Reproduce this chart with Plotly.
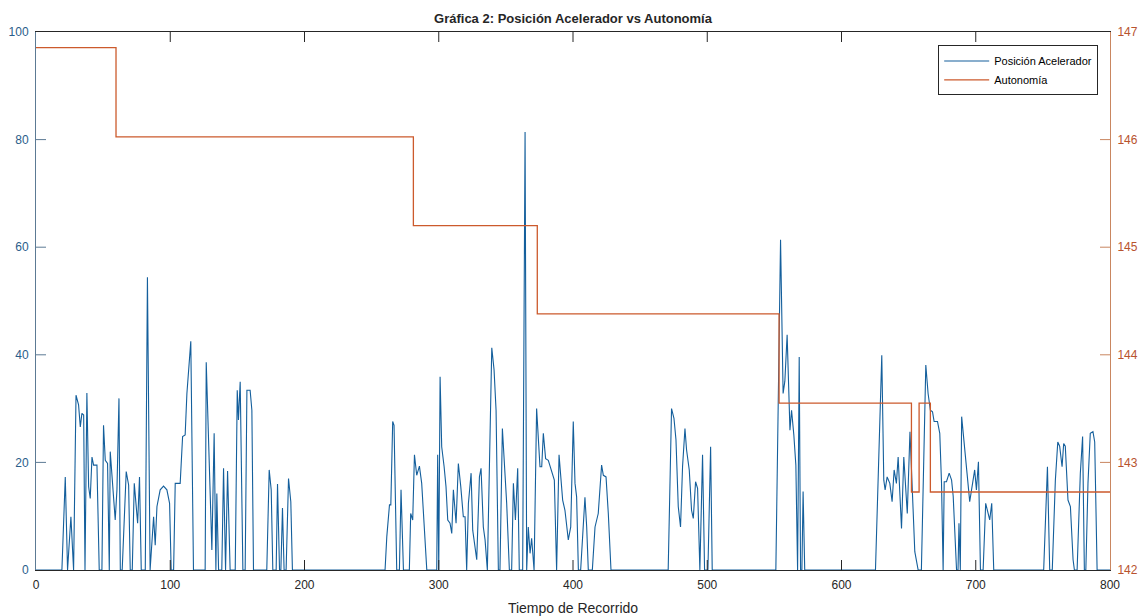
import plotly.graph_objects as go

# Posición Acelerador (left axis)
t_acel = [0, 19.3, 21.8, 23.5, 26.0, 28.0, 29.8, 31.7, 33.0, 34.2, 35.5, 36.5, 37.9, 39.2, 40.4, 41.7, 42.9, 45.4,
          47.1, 49.1, 50.3, 51.6, 53.3, 54.6, 55.3, 56.6, 57.8, 59.0, 60.3, 61.8, 62.8, 64.2, 67.2, 69.0, 70.2,
          71.7, 73.2, 74.7, 75.7, 77.1, 78.4, 81.4, 83.0, 85.0, 87.6, 88.8, 90.1, 92.5, 95.0, 97.5, 99.5, 100.7,
          102.5, 103.7, 107.4, 109.2, 111.1, 112.4, 115.3, 117.3, 126.0, 126.8, 131.0, 132.7, 134.0, 134.7, 136.0,
          138.4, 139.7, 141.2, 142.7, 144.6, 148.4, 149.9, 150.8, 152.1, 154.1, 155.8, 157.1, 159.5, 160.8, 162.0,
          171.9, 173.7, 175.2, 176.4, 178.9, 179.9, 181.4, 182.4, 183.6, 184.8, 186.3, 188.1, 189.8, 191.0,
          260.0, 261.3, 263.3, 264.3, 265.7, 266.7, 268.7, 270.7, 271.9, 273.7, 278.1, 279.1, 280.6, 281.9, 283.6,
          285.6, 287.3, 291.1, 298.5, 299.2, 300.0, 301.0, 302.2, 304.0, 305.4, 306.7, 308.4, 309.7, 310.9, 312.9,
          314.6, 316.4, 318.3, 319.6, 320.8, 322.1, 324.1, 325.3, 327.0, 328.3, 330.3, 331.5, 333.2, 334.5, 336.2,
          339.5, 341.2, 342.7, 344.4, 345.6, 347.4, 349.4, 350.6, 352.6, 354.3, 355.6, 357.1, 358.8, 360.0, 362.5,
          364.3, 365.5, 366.7, 368.0, 369.2, 371.0, 372.9, 375.4, 376.7, 377.9, 379.6, 381.6, 384.1, 386.1, 387.8,
          389.6, 392.3, 394.0, 396.5, 398.3, 400.2, 401.5, 402.7, 404.0, 405.7, 407.2, 408.9, 410.2, 411.4, 414.4,
          416.4, 418.8, 421.3, 422.6, 424.6, 426.3, 428.3, 470.9, 473.4, 475.2, 476.7, 478.4, 480.1, 481.6, 483.4,
          484.6, 486.6, 488.3, 489.6, 491.3, 492.8, 494.5, 496.5, 498.0, 500.5, 502.5, 503.7, 551.1, 554.6, 556.5,
          557.8, 559.5, 561.1, 561.6, 562.8, 564.5, 566.0, 567.3, 568.5, 569.5, 570.5, 571.4, 572.6, 625.3, 630.0,
          631.5, 632.5, 634.0, 636.0, 637.7, 639.2, 640.9, 642.2, 644.7, 646.4, 649.0, 651.0, 654.6, 657.1, 659.5,
          662.8, 664.5, 666.2, 667.8, 669.0, 671.5, 673.2, 674.5, 675.7, 676.5, 678.2, 680.2, 682.0, 683.2, 685.7,
          686.8, 687.5, 688.5, 689.5, 691.8, 693.5, 695.5, 696.8, 699.2, 700.5, 702.0, 703.5, 705.5, 707.4, 709.2,
          710.4, 711.9, 713.4, 750.6, 753.4, 755.1, 757.0, 759.3, 761.1, 762.5, 764.3, 765.5, 766.7, 768.7, 770.5,
          772.5, 773.5, 775.5, 777.9, 779.6, 780.9, 782.0, 783.6, 785.3, 787.3, 788.6, 790.4, 800]
v_acel = [0, 0, 17.3, 0, 9.9, 0, 32.5, 30.7, 26.6, 29.1, 28.8, 0, 32.9, 15.5, 13.3, 21.0, 19.5, 19.5,
          0, 0, 26.9, 20.4, 19.8, 0, 22.0, 18.0, 13.0, 9.3, 14.9, 31.9, 0, 0, 18.3, 15.8, 0,
          0, 16.1, 12.4, 8.7, 17.3, 0, 0, 54.4, 0, 9.9, 4.6, 11.8, 14.9, 15.6, 14.9, 12.4, 0,
          0, 16.1, 16.1, 24.8, 25.1, 32.8, 42.5, 0, 0, 38.6, 3.7, 25.4, 0, 14.2, 0,
          0, 18.9, 0, 18.4, 0, 0, 33.4, 27.9, 35.0, 0, 0, 33.4, 33.4, 29.7, 0,
          0, 18.6, 14.9, 0, 0, 16.0, 0, 0, 11.5, 0, 0, 17.0, 12.7, 0,
          0, 6.2, 12.1, 12.1, 27.6, 26.9, 0, 0, 14.9, 0, 0, 10.5, 9.3, 21.4, 17.6,
          19.3, 16.1, 0, 0, 21.4, 0, 35.9, 22.9, 19.2, 15.5, 9.3, 8.7, 6.8, 14.9, 8.7,
          19.8, 15.5, 9.9, 9.9, 0, 12.4, 18.0, 7.4, 4.3, 1.9, 17.3, 18.9, 8.0, 5.6, 0,
          41.3, 37.2, 29.7, 0, 0, 26.3, 16.7, 12.4, 0, 0, 16.1, 9.3, 18.9, 0, 0,
          81.4, 0, 8.0, 3.1, 5.9, 0, 30.0, 19.2, 19.2, 25.4, 20.7, 20.4, 18.3, 16.7, 0,
          21.4, 13.0, 11.1, 5.6, 8.0, 27.6, 16.1, 13.6, 0, 0, 6.8, 13.5, 8.0, 0, 0,
          8.0, 10.5, 19.5, 17.6, 17.3, 10.5, 0, 0, 30.0, 28.2, 24.2, 11.8, 8.0, 19.2, 26.3,
          22.3, 18.6, 11.1, 9.6, 16.4, 15.2, 0, 21.4, 0, 0, 22.9, 0, 0, 61.4, 32.8,
          35.1, 43.7, 32.2, 26.0, 29.7, 25.1, 19.5, 0, 39.6, 0, 0, 14.6, 0, 0, 39.9,
          16.7, 14.9, 17.3, 16.1, 12.7, 18.6, 16.1, 21.0, 7.7, 21.0, 10.5, 25.7, 3.4, 0, 0,
          38.1, 32.8, 29.7, 29.4, 27.6, 27.6, 25.4, 16.1, 0, 16.4, 16.4, 18.0, 16.7, 13.7, 0,
          0, 8.7, 0, 28.5, 21.7, 18.0, 12.7, 14.9, 18.6, 14.9, 20.1, 0, 0, 12.4, 10.5,
          9.3, 12.4, 0, 0, 19.2, 0, 0, 16.7, 23.8, 23.0, 19.2, 23.5, 23.0, 13.0, 11.8,
          1.9, 0, 0, 18.0, 24.8, 0, 0, 16.1, 25.4, 25.7, 23.8, 0, 0]

# Autonomía (right axis), step changes
t_auto = [0, 59.6, 281.1, 373.4, 553.5, 652.1, 657.8, 666.2, 800]
v_auto = [146.855, 146.025, 145.2, 144.38, 143.55, 142.725, 143.55, 142.725, 142.725]

x_ticks = [0, 100, 200, 300, 400, 500, 600, 700, 800]
yl_ticks = [0, 20, 40, 60, 80, 100]
yr_ticks = [142, 143, 144, 145, 146, 147]

BLUE = "#145F9C"
RED = "#CC5A2C"
LBLUE = "#2A5D8A"
LRED = "#B8532E"
DARK = "#262626"
FONT = "Liberation Sans, Arial, Helvetica, sans-serif"

W, H = 1145, 616
ML, MR, MT, MB = 36, 35, 32, 46
PW, PH = W - ML - MR, H - MT - MB
TL = 10  # tick length in px
fx, fy = TL / PW, TL / PH

fig = go.Figure()
fig.add_trace(go.Scatter(x=t_acel, y=v_acel, mode="lines", name="Posición Acelerador",
                         line=dict(color=BLUE, width=1.1), xaxis="x", yaxis="y"))
fig.add_trace(go.Scatter(x=t_auto, y=v_auto, mode="lines", name="Autonomía",
                         line=dict(color=RED, width=1.3, shape="hv"), xaxis="x", yaxis="y2"))

# inward tick marks (MATLAB style box axes)
shapes = []
for t in x_ticks[1:-1]:
    shapes.append(dict(type="line", xref="x", yref="paper", x0=t, x1=t, y0=0, y1=fy,
                       line=dict(color=DARK, width=1)))
    shapes.append(dict(type="line", xref="x", yref="paper", x0=t, x1=t, y0=1, y1=1 - fy,
                       line=dict(color=DARK, width=1)))
for v in yl_ticks[1:-1]:
    shapes.append(dict(type="line", xref="paper", yref="y", x0=0, x1=fx, y0=v, y1=v,
                       line=dict(color="#5C7A94", width=1)))
for v in yr_ticks[1:-1]:
    shapes.append(dict(type="line", xref="paper", yref="y2", x0=1, x1=1 - fx, y0=v, y1=v,
                       line=dict(color="#C98660", width=1)))

fig.update_layout(
    width=W, height=H,
    margin=dict(l=ML, r=MR, t=MT, b=MB),
    paper_bgcolor="white", plot_bgcolor="white",
    font=dict(family=FONT, size=12, color=DARK),
    title=dict(text="<b>Gráfica 2: Posición Acelerador vs Autonomía</b>",
               x=0.5, xref="paper", xanchor="center",
               y=1 - 18 / H, yref="container", yanchor="middle",
               font=dict(family=FONT, size=13, color=DARK)),
    xaxis=dict(range=[0, 800], tickvals=x_ticks, ticks="", ticklabelstandoff=4,
               showline=True, linecolor=DARK, linewidth=1, mirror=True,
               showgrid=False, zeroline=False, automargin=False,
               tickfont=dict(size=12, color=DARK),
               title=dict(text="Tiempo de Recorrido", standoff=11, font=dict(size=14, color=DARK))),
    yaxis=dict(range=[0, 100], tickvals=yl_ticks, side="left", ticks="", ticklabelstandoff=4,
               showline=True, linecolor="#5C7A94",
               linewidth=1, showgrid=False, zeroline=False, automargin=False,
               tickfont=dict(size=12, color=LBLUE)),
    yaxis2=dict(range=[142, 147], tickvals=yr_ticks, side="right", overlaying="y", anchor="x",
                ticks="", ticklabelstandoff=4, showline=True,
                linecolor="#C98660", linewidth=1, showgrid=False, zeroline=False, automargin=False,
                tickfont=dict(size=12, color=LRED)),
    shapes=shapes,
    legend=dict(x=0.989, xanchor="right", y=0.975, yanchor="top", bgcolor="white",
                bordercolor=DARK, borderwidth=1, font=dict(size=11, color="black"),
                tracegroupgap=0, itemwidth=45),
    showlegend=True,
)

fig.write_html("out.html")
